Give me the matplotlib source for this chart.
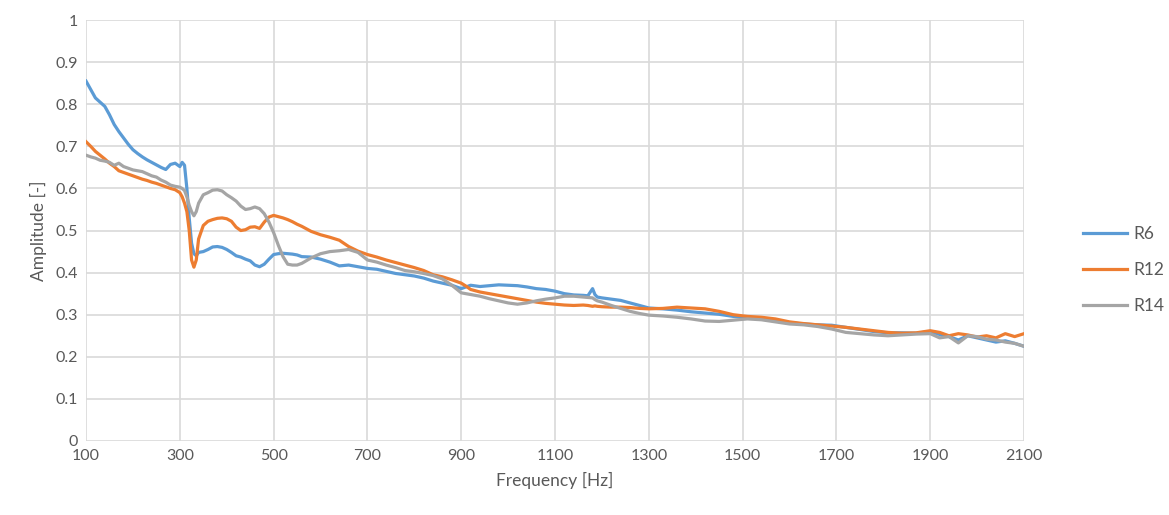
import matplotlib
matplotlib.use('Agg')
import matplotlib.pyplot as plt

plt.rcParams['font.family'] = ['Lato', 'DejaVu Sans']

freq = [100, 110, 120, 130, 140, 150, 160, 170, 180, 190,
        200, 210, 220, 230, 240, 250, 260, 270, 280, 290,
        300, 305, 310, 315, 320, 325, 330, 335, 340, 350,
        360, 370, 380, 390, 400, 410, 420, 430, 440, 450,
        460, 470, 480, 490, 500, 510, 520, 530, 540, 550,
        560, 580, 600, 620, 640, 660, 680, 700, 720, 740,
        760, 780, 800, 820, 840, 860, 880, 900, 910, 920,
        940, 960, 980, 1000, 1020, 1040, 1060, 1080, 1100, 1120,
        1140, 1160, 1170, 1180, 1185, 1190, 1200, 1220, 1240, 1260,
        1280, 1300, 1330, 1360, 1390, 1420, 1450, 1480, 1510, 1540,
        1570, 1600, 1630, 1660, 1690, 1720, 1750, 1780, 1810, 1840,
        1870, 1900, 1920, 1940, 1960, 1980, 2000, 2020, 2040, 2060,
        2080, 2100]

r6 = [.855, .835, .815, .805, .795, .775, .752, .735, .72, .705,
      .692, .683, .675, .668, .662, .656, .65, .645, .657, .66,
      .652, .662, .655, .60, .53, .47, .445, .44, .448, .45,
      .455, .461, .462, .46, .455, .448, .44, .437, .432, .428,
      .418, .414, .42, .432, .443, .445, .446, .445, .444, .442,
      .438, .437, .432, .425, .416, .418, .414, .41, .408, .403,
      .398, .395, .392, .387, .38, .375, .37, .362, .366, .37,
      .367, .369, .371, .37, .369, .366, .362, .36, .356, .35,
      .347, .346, .345, .362, .348, .342, .34, .337, .334, .328,
      .322, .316, .314, .311, .307, .304, .301, .296, .293, .29,
      .285, .281, .278, .276, .275, .27, .265, .26, .257, .257,
      .256, .26, .253, .248, .24, .25, .245, .24, .235, .238,
      .232, .225]

r12 = [.711, .70, .688, .679, .67, .66, .652, .642, .638, .634,
       .63, .626, .622, .619, .615, .612, .608, .604, .6, .597,
       .59, .58, .565, .545, .5, .43, .413, .43, .48, .512,
       .522, .526, .529, .53, .528, .522, .508, .5, .502, .508,
       .509, .505, .52, .532, .536, .533, .53, .526, .521, .515,
       .51, .498, .49, .484, .477, .462, .451, .443, .437, .43,
       .424, .418, .412, .405, .395, .39, .383, .375, .368, .36,
       .354, .35, .346, .342, .338, .334, .33, .327, .325, .323,
       .322, .323, .322, .32, .321, .32, .319, .318, .318, .317,
       .315, .314, .315, .318, .316, .314, .308, .3, .296, .294,
       .29, .283, .279, .276, .273, .27, .266, .262, .258, .256,
       .257, .262, .258, .25, .255, .252, .247, .25, .245, .255,
       .248, .255]

r14 = [.679, .675, .672, .667, .665, .662, .655, .66, .652, .648,
       .644, .642, .64, .635, .63, .627, .62, .615, .608, .605,
       .603, .6, .595, .58, .56, .545, .535, .545, .565, .585,
       .59, .596, .597, .594, .585, .578, .57, .558, .55, .552,
       .556, .552, .54, .52, .495, .465, .438, .42, .418, .418,
       .422, .435, .445, .45, .452, .455, .448, .43, .425, .418,
       .412, .405, .402, .398, .393, .385, .37, .352, .35, .348,
       .344, .338, .333, .328, .325, .328, .333, .337, .34, .344,
       .344, .342, .341, .34, .336, .333, .33, .322, .315, .308,
       .303, .299, .297, .294, .29, .285, .284, .287, .29, .288,
       .283, .278, .276, .272, .266, .258, .255, .252, .25, .252,
       .254, .255, .245, .248, .233, .25, .248, .242, .24, .235,
       .232, .225]

series = [('R6', r6, '#5b9bd5'), ('R12', r12, '#ed7d31'), ('R14', r14, '#a5a5a5')]

fig = plt.figure(figsize=(11.69, 5.15), dpi=100)
ax = fig.add_axes([0.0736, 0.1437, 0.876 - 0.0736, 0.961 - 0.1437])

for name, vals, col in series:
    ax.plot(freq, vals, color=col, lw=2.3, label=name, solid_joinstyle='round')

ax.set_xlim(100, 2100)
ax.set_ylim(0, 1)
ax.set_xticks(range(100, 2101, 200))
ax.set_yticks([i / 10 for i in range(11)])
ax.set_yticklabels(['0', '0.1', '0.2', '0.3', '0.4', '0.5', '0.6', '0.7', '0.8', '0.9', '1'])
ax.grid(True, color='#d9d9d9', lw=1.2)
ax.set_axisbelow(True)
for s in ax.spines.values():
    s.set_visible(False)
ax.tick_params(length=0, labelsize=11.5, colors='#595959', pad=6)
ax.set_xlabel('Frequency [Hz]', fontsize=12.5, color='#595959', labelpad=6)
ax.set_ylabel('Amplitude [-]', fontsize=12.5, color='#595959', labelpad=6)

leg = fig.legend(loc='center left', bbox_to_anchor=(1083 / 1169, 1 - 270 / 515), frameon=False,
                 fontsize=12.5, handlelength=2.55, labelspacing=1.15, handletextpad=0.35,
                 borderaxespad=0, borderpad=0)
for t in leg.get_texts():
    t.set_color('#595959')

fig.savefig('out.png', dpi=100)
plt.close()
